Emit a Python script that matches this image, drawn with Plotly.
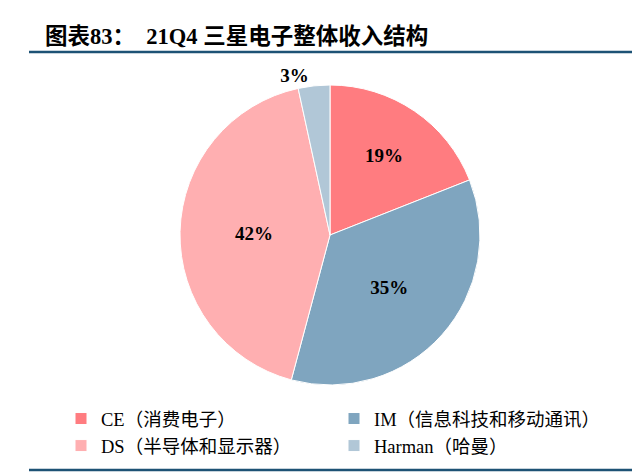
import plotly.graph_objects as go

# 21Q4 三星电子收入结构 (%)
labels = ["CE（消费电子）", "IM（信息科技和移动通讯）", "DS（半导体和显示器）", "Harman（哈曼）"]
values = [19.0, 35.1, 42.4, 3.4]
colors = ["#FF7C80", "#7FA5BF", "#FFAFB1", "#B1C7D7"]
text_pos = ["inside", "inside", "inside", "outside"]

W, H = 640, 473
font_fam = "Liberation Serif, Noto Sans CJK SC, serif"
line_col = "#1D5275"

fig = go.Figure()
fig.add_trace(go.Pie(
    labels=labels,
    values=values,
    sort=False,
    direction="clockwise",
    rotation=0,
    marker=dict(colors=colors, line=dict(color="white", width=1)),
    texttemplate="%{percent:.0%}",
    textposition=text_pos,
    insidetextorientation="horizontal",
    textfont=dict(family=font_fam, size=19, color="black", weight="bold"),
    domain=dict(x=[172 / W, 472 / W], y=[1 - 377 / H, 1 - 77 / H]),
    hoverinfo="label+percent",
))

fig.update_layout(
    width=W, height=H,
    margin=dict(l=0, r=0, t=0, b=0, autoexpand=False),
    paper_bgcolor="white",
    font=dict(family=font_fam, color="black"),
    title=dict(
        text="<b>图表83：  21Q4 三星电子整体收入结构</b>",
        x=37 / W, xanchor="left",
        y=1 - 28 / H, yanchor="middle",
        font=dict(family="Liberation Serif, Noto Sans CJK SC", size=22.5, color="black"),
    ),
    showlegend=True,
    legend=dict(
        orientation="h",
        x=53 / W, xanchor="left",
        y=1 - 392 / H, yanchor="top",
        entrywidth=228, entrywidthmode="pixels",
        itemwidth=30,
        bgcolor="rgba(0,0,0,0)",
        font=dict(family=font_fam, size=18.5, color="black"),
        traceorder="normal",
    ),
    shapes=[
        dict(type="line", xref="paper", yref="paper",
             x0=21 / W, x1=1, y0=1 - 44 / H, y1=1 - 44 / H,
             line=dict(color=line_col, width=2.5)),
        dict(type="line", xref="paper", yref="paper",
             x0=21 / W, x1=1, y0=1 - 462 / H, y1=1 - 462 / H,
             line=dict(color=line_col, width=2.5)),
    ],
)

fig.write_html("out.html")
